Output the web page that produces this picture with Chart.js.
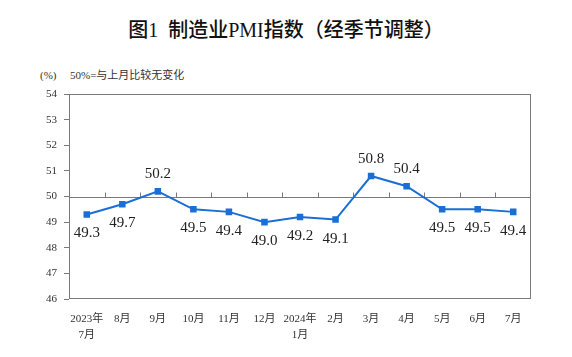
<!DOCTYPE html>
<html><head><meta charset="utf-8">
<script src="https://cdn.jsdelivr.net/npm/chart.js@4/dist/chart.umd.min.js"></script>
<style>
html,body{margin:0;padding:0;background:#fff;}
#wrap{position:relative;width:572px;height:357px;overflow:hidden;}
#title{position:absolute;left:0;width:572px;top:17px;text-align:center;font:500 20px "Liberation Serif","Noto Sans CJK SC",serif;color:#111;line-height:26px;}
#unit{position:absolute;left:40px;top:68px;font:11px "Liberation Serif","Noto Sans CJK SC",serif;color:#333;line-height:14px;}
#note{position:absolute;left:70px;top:68px;font:11px "Liberation Serif","Noto Sans CJK SC",serif;color:#333;line-height:14px;}
canvas{position:absolute;left:0;top:0;}
</style></head>
<body><div id="wrap">
<div id="title">图1&nbsp;&nbsp;制造业PMI指数（经季节调整）</div>
<div id="unit">(%)</div>
<div id="note">50%=与上月比较无变化</div>
<canvas id="c" width="572" height="357"></canvas>
</div>
<script>
const categories = [["2023年","7月"],"8月","9月","10月","11月","12月",["2024年","1月"],"2月","3月","4月","5月","6月","7月"];
const pmiValues = [49.3,49.7,50.2,49.5,49.4,49.0,49.2,49.1,50.8,50.4,49.5,49.5,49.4];
const yMin = 46, yMax = 54, yStep = 1;
const baseline = 50;

const framePlugin = {
  id:'frame',
  beforeDatasetsDraw(chart){
    const {ctx, chartArea:a, scales} = chart;
    ctx.save();
    ctx.strokeStyle = '#7a7a7a';
    ctx.lineWidth = 1;
    ctx.strokeRect(Math.round(a.left)+0.5, Math.round(a.top)+0.5, Math.round(a.right-a.left)-1, Math.round(a.bottom-a.top)-1);
    const y = Math.round(scales.y.getPixelForValue(baseline))+0.5;
    ctx.beginPath();
    ctx.moveTo(a.left, y); ctx.lineTo(a.right, y);
    const n = categories.length;
    for(let k=1;k<n;k++){
      const x = Math.round((scales.x.getPixelForValue(k-1)+scales.x.getPixelForValue(k))/2)+0.5;
      ctx.moveTo(x, y); ctx.lineTo(x, y-5);
    }
    ctx.stroke();
    ctx.restore();
  },
  afterDatasetsDraw(chart){
    const {ctx} = chart;
    const meta = chart.getDatasetMeta(0);
    ctx.save();
    ctx.font = '15px "Liberation Serif", serif';
    ctx.fillStyle = '#222';
    ctx.textAlign = 'center';
    ctx.textBaseline = 'middle';
    meta.data.forEach((pt,i)=>{
      const v = pmiValues[i];
      const above = v > baseline;
      ctx.fillText(v.toFixed(1), pt.x, above ? pt.y-17 : pt.y+19);
    });
    ctx.restore();
  }
};

new Chart(document.getElementById('c'), {
  type:'line',
  data:{labels:categories, datasets:[{
    data:pmiValues,
    borderColor:'#1a6fd6',
    backgroundColor:'#1a6fd6',
    borderWidth:2,
    pointStyle:'rect',
    pointRadius:3.2,
    pointHoverRadius:3.2,
    tension:0
  }]},
  options:{
    responsive:false,
    animation:false,
    events:[],
    layout:{padding:{left:0,right:41,top:94,bottom:0}},
    plugins:{legend:{display:false},tooltip:{enabled:false},title:{display:false}},
    scales:{
      x:{
        offset:true,
        grid:{display:false, drawTicks:false},
        border:{display:false},
        ticks:{color:'#333', font:{family:'"Liberation Serif","Noto Sans CJK SC",serif', size:11, lineHeight:1.45}, padding:12, maxRotation:0, autoSkip:false},
        afterFit(s){ s.height = 58; }
      },
      y:{
        min:yMin, max:yMax,
        grid:{display:true, drawOnChartArea:false, drawTicks:true, tickLength:5, color:'#7a7a7a'},
        border:{display:false},
        ticks:{stepSize:yStep, color:'#333', font:{family:'"Liberation Serif",serif', size:11}, padding:7},
        afterFit(s){ s.width = 69; }
      }
    }
  },
  plugins:[framePlugin]
});
</script>
</body></html>
